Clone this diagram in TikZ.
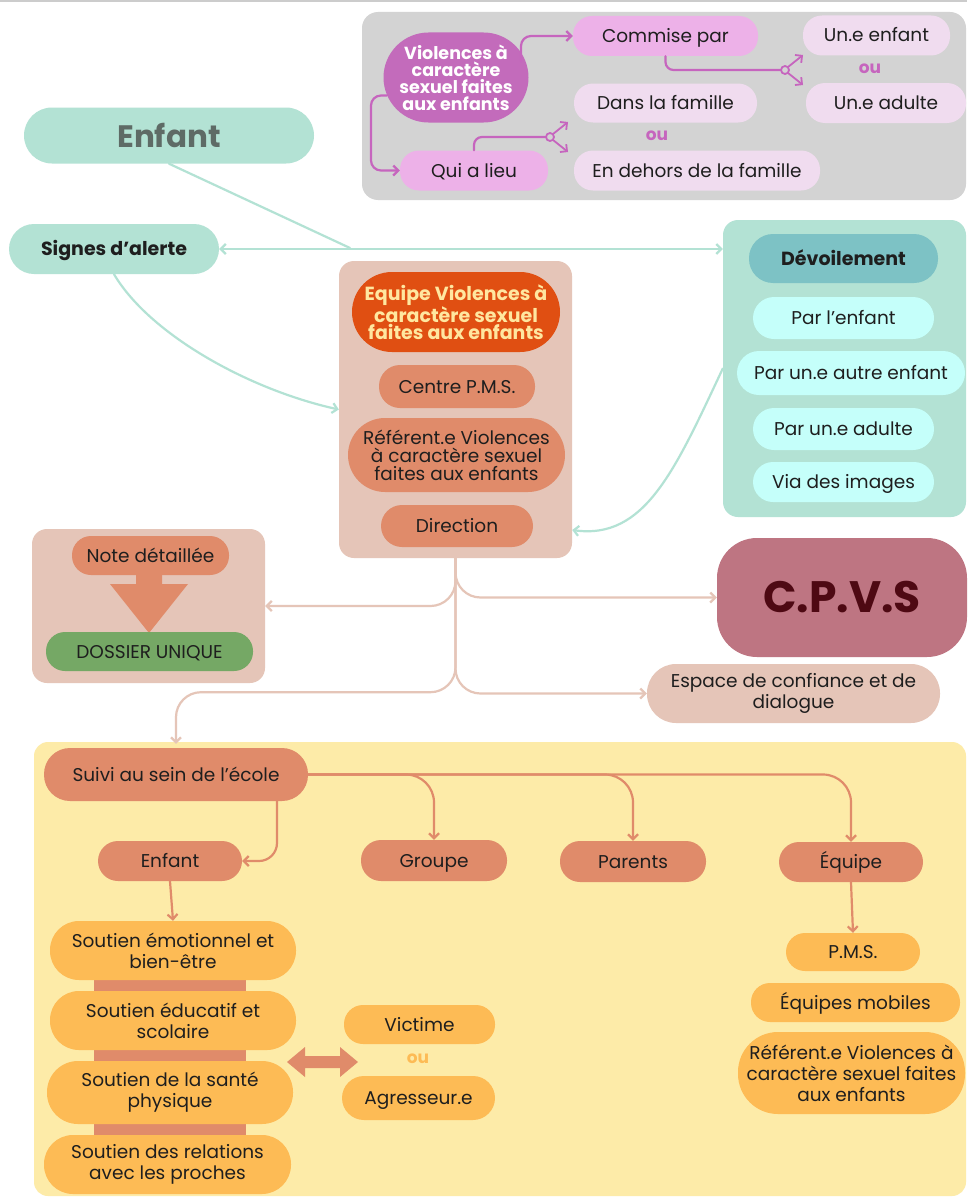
\documentclass[tikz,border=0pt]{standalone}
\usepackage{fontspec}
\setmainfont{Poppins}
\usetikzlibrary{arrows.meta}
\definecolor{grayp}{HTML}{D3D3D3}
\definecolor{violet}{HTML}{C36BBB}
\definecolor{violetl}{HTML}{C665BE}
\definecolor{pinkb}{HTML}{EDB1E8}
\definecolor{pinkl}{HTML}{F0DCEF}
\definecolor{mint}{HTML}{B3E2D4}
\definecolor{enftxt}{HTML}{5E6B66}
\definecolor{beige}{HTML}{E5C5B8}
\definecolor{orng}{HTML}{E04F12}
\definecolor{hdrtxt}{HTML}{FFE7A0}
\definecolor{salmon}{HTML}{E08B6A}
\definecolor{teal}{HTML}{7DC2C5}
\definecolor{cyanl}{HTML}{C5FFFA}
\definecolor{greenb}{HTML}{75A865}
\definecolor{mauve}{HTML}{BE7582}
\definecolor{maroon}{HTML}{4E0913}
\definecolor{yellowp}{HTML}{FDEBA8}
\definecolor{orangey}{HTML}{FDBB55}
\definecolor{txt}{HTML}{1E1E1E}
\begin{document}
\begin{tikzpicture}[x=1pt,y=-1pt,
  sz/.style 2 args={minimum width=#1pt, minimum height=#2pt},
  box/.style={rectangle, draw=none, inner sep=0pt, align=center, rounded corners=19pt,
    text=txt, font=\fontsize{18.5}{21}\selectfont},
  one/.style={text height=15pt, text depth=2pt},
  panel/.style={rectangle, draw=none, inner sep=0pt, rounded corners=15pt},
  bold/.style={font=\fontsize{19}{21}\selectfont\bfseries},
  oulab/.style={font=\fontsize{17}{18}\selectfont\bfseries},
  tip/.style={-{Straight Barb[length=5pt,width=10pt]}},
  pcon/.style={draw=violetl, line width=2.2pt, line cap=round},
  mcon/.style={draw=mint, line width=2.2pt, line cap=round},
  bcon/.style={draw=beige, line width=2.2pt, line cap=round},
  scon/.style={draw=salmon, line width=2.2pt, line cap=round},
]
\useasboundingbox (0,0) rectangle (967,1199);
\fill[white] (0,0) rectangle (967,1199);
\draw[black!20, line width=1.2pt] (0,1) -- (967,1);

% ---------- panels ----------
\node[panel, fill=grayp, sz={604}{188}, rounded corners=16pt] (gpanel) at (664,106) {};
\node[panel, fill=beige, sz={233}{297}] (cpanel) at (455.5,409.5) {};
\node[panel, fill=mint, sz={243}{297}] (devpanel) at (844.5,368.5) {};
\node[panel, fill=beige, sz={233}{154}] (notepanel) at (148.5,606) {};
\node[panel, fill=yellowp, sz={932}{454}, rounded corners=14pt] (ypanel) at (500,969) {};

% ---------- top grey area ----------
\node[box, fill=violet, sz={145}{90}, rounded corners=45pt, text=white,
  font=\fontsize{17.5}{17}\selectfont\bfseries] (v) at (456,77.5)
  {Violences à\\caractère\\sexuel faites\\aux enfants};
\node[box, one, fill=pinkb, sz={185}{40}] (commise) at (665.5,36) {Commise par};
\node[box, one, fill=pinkl, sz={147}{40}] (unenf) at (876.5,35.5) {Un.e enfant};
\node[box, one, fill=pinkl, sz={160}{40}] (unadu) at (886,103) {Un.e adulte};
\node[box, one, fill=pinkl, sz={183}{39}] (dans) at (665.5,103) {Dans la famille};
\node[box, one, fill=pinkl, sz={246}{40}] (dehors) at (697,170.5) {En dehors de la famille};
\node[box, one, fill=pinkb, sz={148}{40}] (qui) at (474,170.5) {Qui a lieu};
\node[oulab, text=violetl] (ou1) at (870,69) {ou};
\node[oulab, text=violetl] (ou2) at (657,136) {ou};

\draw[pcon, tip, rounded corners=10pt] ([shift={(65,-16)}]v.center) |- (commise.west);
\draw[pcon, tip, rounded corners=10pt] ([shift={(-69,18)}]v.center) -- ++(-16,0) |- (qui.west);
% fork 1
\coordinate (f1) at (785,70);
\coordinate (f1a) at (803,55);
\coordinate (f1b) at (803,85);
\draw[pcon, rounded corners=8pt] (commise.south) |- ([xshift=-4pt]f1);
\draw[pcon, fill=grayp, line width=1.8pt] (f1) circle (4pt);
\draw[pcon, tip, line width=1.8pt] ([shift={(3,-3)}]f1) -- (f1a);
\draw[pcon, tip, line width=1.8pt] ([shift={(3,3)}]f1) -- (f1b);
% fork 2
\coordinate (f2) at (550,137);
\coordinate (f2a) at (568,122);
\coordinate (f2b) at (568,152);
\draw[pcon, rounded corners=8pt] (qui.north) |- ([xshift=-4pt]f2);
\draw[pcon, fill=grayp, line width=1.8pt] (f2) circle (4pt);
\draw[pcon, tip, line width=1.8pt] ([shift={(3,-3)}]f2) -- (f2a);
\draw[pcon, tip, line width=1.8pt] ([shift={(3,3)}]f2) -- (f2b);

% ---------- left / mint ----------
\node[box, fill=mint, sz={290}{56}, rounded corners=28pt, text=enftxt,
  font=\fontsize{31}{32}\selectfont\bfseries] (enfant) at (169,135.5) {Enfant};
\node[box, one, fill=mint, sz={210}{50}, rounded corners=25pt, bold] (signes) at (114,249) {Signes d’alerte};

% ---------- centre panel ----------
\node[box, fill=orng, sz={208}{80}, rounded corners=40pt, text=hdrtxt,
  font=\fontsize{19}{17.5}\selectfont\bfseries] (equipe) at (456,312)
  {Equipe Violences à\\caractère sexuel\\faites aux enfants};
\node[box, one, fill=salmon, sz={156}{43}, rounded corners=21pt] (centre) at (457,386.5) {Centre P.M.S.};
\node[box, fill=salmon, sz={217}{74}, rounded corners=37pt, font=\fontsize{18.5}{18}\selectfont] (ref1) at (456.5,455)
  {Référent.e Violences\\à caractère sexuel\\faites aux enfants};
\node[box, one, fill=salmon, sz={152}{42}, rounded corners=21pt] (dir) at (457,526) {Direction};

% ---------- dévoilement ----------
\node[box, one, fill=teal, sz={189}{49}, rounded corners=24pt, bold] (dev) at (843.5,258.5) {Dévoilement};
\node[box, one, fill=cyanl, sz={181}{42}, rounded corners=21pt] (p1) at (843.5,318) {Par l’enfant};
\node[box, one, fill=cyanl, sz={228}{44}, rounded corners=22pt] (p2) at (851,373) {Par un.e autre enfant};
\node[box, one, fill=cyanl, sz={181}{42}, rounded corners=21pt] (p3) at (843.5,429) {Par un.e adulte};
\node[box, one, fill=cyanl, sz={181}{40}, rounded corners=20pt] (p4) at (843.5,482) {Via des images};

% mint connectors
\coordinate (j) at (350,248);
\draw[mcon] (enfant.south) -- (j);
\draw[mcon, {Straight Barb[length=5pt,width=10pt]}-{Straight Barb[length=5pt,width=10pt]}]
  (signes.east) -- (signes.east -| devpanel.west);
\draw[mcon, tip] (signes.south) .. controls (150,335) and (250,390) .. (cpanel.west);
\draw[mcon, tip] (devpanel.west) .. controls (675,470) and (645,540) .. ([yshift=-4pt]cpanel.east |- dir.east);

% ---------- note panel ----------
\fill[salmon] (136,570) -- (162,570) -- (162,584) -- (188,584) -- (149,633) -- (110,584) -- (136,584) -- cycle;
\node[box, one, fill=salmon, sz={157}{39}] (note) at (150.5,555.5) {Note détaillée};
\node[box, one, fill=greenb, sz={207}{39}] (dossier) at (149.5,651.5) {DOSSIER UNIQUE};

% ---------- CPVS / espace ----------
\node[box, fill=mauve, sz={250}{119}, rounded corners=40pt, text=maroon,
  font=\fontsize{44}{46}\selectfont\bfseries] (cpvs) at (842,597.5) {C.P.V.S};
\node[box, fill=beige, sz={293}{59}, rounded corners=29pt, font=\fontsize{18.5}{21}\selectfont] (espace) at (793.5,693.5)
  {Espace de confiance et de\\dialogue};

% beige connectors from centre panel
\draw[bcon, tip, rounded corners=25pt] (cpanel.south) |- (notepanel.east);
\draw[bcon, tip, rounded corners=25pt] (cpanel.south) |- (cpvs.west);
\draw[bcon, tip, rounded corners=25pt] (cpanel.south) |- (espace.west);
\draw[bcon, tip, rounded corners=25pt] (cpanel.south) -- ++(0,134) -| ([yshift=-2pt]ypanel.north -| 176,0);

% ---------- yellow panel ----------
\node[box, one, fill=salmon, sz={264}{53}, rounded corners=26pt] (suivi) at (176,774.5) {Suivi au sein de l’école};
\node[box, one, fill=salmon, sz={144}{40}, rounded corners=20pt] (enf2) at (170,861) {Enfant};
\node[box, one, fill=salmon, sz={146}{41}, rounded corners=20pt] (groupe) at (434,860.5) {Groupe};
\node[box, one, fill=salmon, sz={146}{41}, rounded corners=20pt] (parents) at (633,861.5) {Parents};
\node[box, one, fill=salmon, sz={144}{40}, rounded corners=20pt] (equipe2) at (851,862) {Équipe};

\draw[scon, tip, rounded corners=28pt] (suivi.east) -| (groupe.north);
\draw[scon, tip, rounded corners=28pt] (suivi.east) -| (parents.north);
\draw[scon, tip, rounded corners=28pt] (suivi.east) -| (equipe2.north);
\draw[scon, tip, rounded corners=18pt] ([xshift=101pt]suivi.south) |- (enf2.east);

\fill[salmon] (94,960) rectangle (246,1150);
\node[box, fill=orangey, sz={246}{59}, rounded corners=29pt] (s1) at (173,950.5) {Soutien émotionnel et\\bien-être};
\node[box, fill=orangey, sz={246}{59}, rounded corners=29pt] (s2) at (173,1020.5) {Soutien éducatif et\\scolaire};
\node[box, fill=orangey, sz={246}{63}, rounded corners=31pt] (s3) at (170,1092.5) {Soutien de la santé\\physique};
\node[box, fill=orangey, sz={247}{59}, rounded corners=29pt] (s4) at (167.5,1164.5) {Soutien des relations\\avec les proches};
\draw[scon, tip] (enf2.south) -- (s1.north);

\fill[salmon] (287,1062) -- (305,1047) -- (305,1056) -- (340,1056) -- (340,1047) -- (358,1062)
  -- (340,1077) -- (340,1068) -- (305,1068) -- (305,1077) -- cycle;
\node[box, one, fill=orangey, sz={151}{39}] (victime) at (419.5,1024.5) {Victime};
\node[oulab, text=orangey] (ou3) at (418,1059) {ou};
\node[box, one, fill=orangey, sz={153}{44}, rounded corners=22pt] (agr) at (418.5,1098) {Agresseur.e};

\node[box, one, fill=orangey, sz={134}{38}] (pms) at (853,952) {P.M.S.};
\node[box, one, fill=orangey, sz={209}{39}] (mob) at (855.5,1002.5) {Équipes mobiles};
\node[box, fill=orangey, sz={227}{82}, rounded corners=40pt] (ref2) at (851.5,1073)
  {Référent.e Violences à\\caractère sexuel faites\\aux enfants};
\draw[scon, tip] (equipe2.south) -- (pms.north);
\end{tikzpicture}
\end{document}
